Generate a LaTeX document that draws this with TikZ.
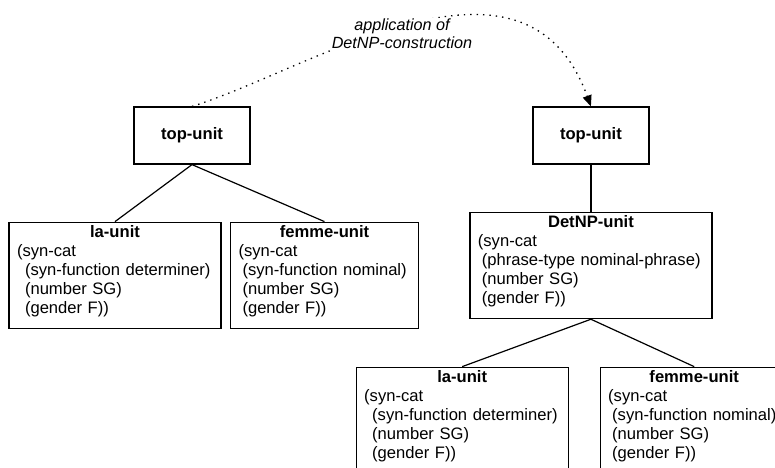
\documentclass[tikz,border=0pt]{standalone}
\usepackage{fontspec}
\setmainfont{Liberation Sans}
\usetikzlibrary{positioning, arrows.meta}

\newcommand{\unitfont}{\fontsize{16.6pt}{19pt}\selectfont}
\tikzset{
  unitbox/.style={draw, line width=1.2pt, rectangle, inner xsep=8pt, inner ysep=3pt,
    text width=#1, align=left, text depth=88pt},
  topbox/.style={draw, line width=1.2pt, rectangle, minimum width=116pt,
    minimum height=57pt, font=\unitfont\bfseries},
  link/.style={line width=1.2pt},
  apply/.style={line width=1.3pt, dash pattern=on 1.4pt off 5pt,
    -{Triangle[length=11pt,width=9pt]}}
}
\newcommand{\unittitle}[1]{\makebox[\hsize]{\bfseries #1}}

\begin{document}
\begin{tikzpicture}[x=1pt, y=-1pt, font=\unitfont]
  \useasboundingbox (0,0) rectangle (775,467);
  \clip (0,0) rectangle (775,467);

  % before
  \node[topbox] (ltop) at (192,135.5) {top-unit};
  \node[unitbox=196pt, below=57pt of ltop.south, xshift=-77pt] (lla)
    {\unittitle{la-unit}\\(syn-cat\\\hspace*{8pt}(syn-function determiner)\\\hspace*{8pt}(number SG)\\\hspace*{8pt}(gender F))};
  \node[unitbox=172pt, below=57pt of ltop.south, xshift=132.5pt] (lfemme)
    {\unittitle{femme-unit}\\(syn-cat\\\hspace*{4pt}(syn-function nominal)\\\hspace*{4pt}(number SG)\\\hspace*{4pt}(gender F))};

  % after
  \node[topbox, right=281.7pt of ltop] (rtop) {top-unit};
  \node[unitbox=226pt, below=47.4pt of rtop] (detnp)
    {\unittitle{DetNP-unit}\\(syn-cat\\\hspace*{4pt}(phrase-type nominal-phrase)\\\hspace*{4pt}(number SG)\\\hspace*{4pt}(gender F))};
  \node[unitbox=196pt, below=47.4pt of detnp.south, xshift=-128.7pt] (rla)
    {\unittitle{la-unit}\\(syn-cat\\\hspace*{8pt}(syn-function determiner)\\\hspace*{8pt}(number SG)\\\hspace*{8pt}(gender F))};
  \node[unitbox=172pt, below=47.4pt of detnp.south, xshift=103.3pt] (rfemme)
    {\unittitle{femme-unit}\\(syn-cat\\\hspace*{4pt}(syn-function nominal)\\\hspace*{4pt}(number SG)\\\hspace*{4pt}(gender F))};

  \draw[link] (ltop.south) -- (lla.north);
  \draw[link] (ltop.south) -- (lfemme.north);
  \draw[link] (rtop.south) -- (detnp.north);
  \draw[link] (detnp.south) -- (rla.north);
  \draw[link] (detnp.south) -- (rfemme.north);

  % construction application
  \draw[apply] (ltop.north) .. controls (310,70) and (525,-75) .. (rtop.north);
  \node[fill=white, inner sep=1pt, align=center,
    font=\fontsize{16.2pt}{18pt}\selectfont\itshape] (applabel) at (402,34)
    {application of\\DetNP-construction};
\end{tikzpicture}
\end{document}
